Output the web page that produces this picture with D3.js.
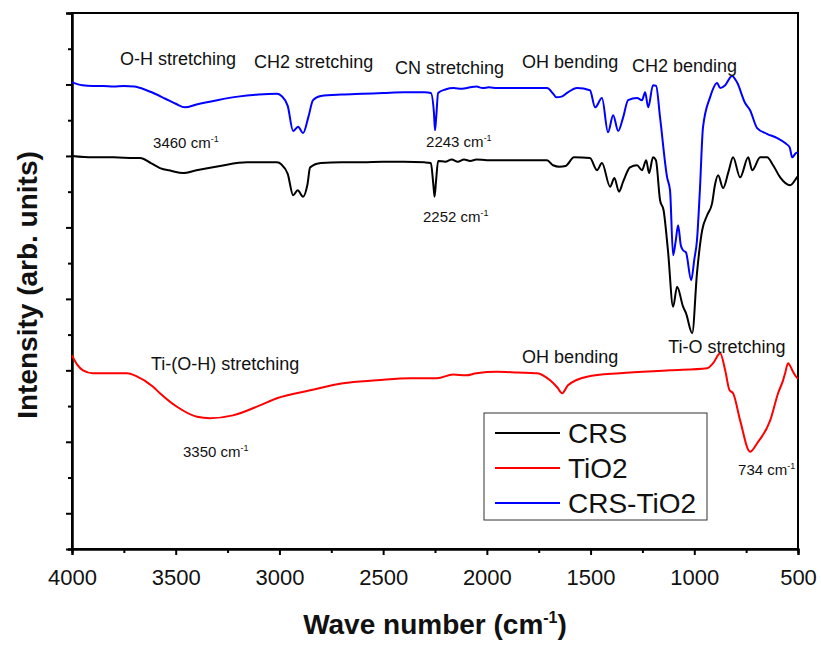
<!DOCTYPE html>
<html lang="en">
<head>
<meta charset="utf-8">
<title>FTIR spectra: CRS, TiO2, CRS-TiO2</title>
<script src="https://cdn.jsdelivr.net/npm/d3@7"></script>
<style>
  body { margin: 0; background: #fff; }
  text { font-family: "Liberation Sans", Arial, sans-serif; fill: #111; }
</style>
</head>
<body>
<script>

// wavenumber (cm-1), intensity (arb. units, offset stacked)
var crs = [
  [4000, 5.00], [3900, 4.98], [3800, 4.98], [3700, 4.97], [3672, 4.97], [3620, 4.90],
  [3576, 4.83], [3520, 4.79], [3465, 4.76], [3400, 4.80], [3286, 4.86], [3156, 4.91],
  [3012, 4.91], [2990, 4.88], [2960, 4.75], [2934, 4.45], [2912, 4.52], [2886, 4.43],
  [2865, 4.60], [2852, 4.84], [2800, 4.90], [2700, 4.91], [2600, 4.91], [2500, 4.92],
  [2400, 4.92], [2300, 4.91], [2270, 4.90], [2258, 4.60], [2252, 4.43], [2245, 4.65],
  [2235, 4.93], [2200, 4.92], [2170, 4.95], [2140, 4.92], [2110, 4.95], [2080, 4.93],
  [2050, 4.95], [2000, 4.94], [1900, 4.94], [1800, 4.94], [1710, 4.94], [1681, 4.87],
  [1650, 4.85], [1620, 4.86], [1580, 4.98], [1503, 4.97], [1469, 4.80], [1445, 4.90],
  [1406, 4.57], [1385, 4.69], [1363, 4.50], [1343, 4.64], [1310, 4.84], [1276, 4.87],
  [1252, 4.80], [1232, 4.94], [1218, 4.76], [1199, 4.98], [1185, 4.94], [1165, 4.38],
  [1148, 4.24], [1127, 3.68], [1102, 2.89], [1083, 3.17], [1054, 2.89], [1040, 2.80],
  [1010, 2.52], [987, 3.36], [962, 3.96], [938, 4.17], [914, 4.34], [900, 4.60],
  [885, 4.73], [861, 4.55], [835, 4.78], [813, 4.98], [779, 4.70], [740, 4.98],
  [721, 4.80], [682, 4.98], [649, 4.98], [620, 4.87], [586, 4.70], [538, 4.59],
  [505, 4.70], [500, 4.72]
];

var tio2 = [
  [4000, 2.21], [3975, 2.08], [3947, 2.00], [3900, 1.96], [3800, 1.96], [3735, 1.96],
  [3690, 1.92], [3609, 1.77], [3576, 1.68], [3494, 1.49], [3397, 1.35], [3335, 1.33],
  [3224, 1.37], [3094, 1.51], [3012, 1.61], [2852, 1.72], [2693, 1.82], [2530, 1.86],
  [2370, 1.89], [2240, 1.89], [2163, 1.94], [2100, 1.93], [2050, 1.96], [1951, 1.98],
  [1850, 1.97], [1758, 1.96], [1695, 1.86], [1660, 1.76], [1637, 1.68], [1609, 1.79],
  [1517, 1.91], [1358, 1.96], [1117, 2.00], [938, 2.03], [909, 2.10], [875, 2.24],
  [851, 2.00], [830, 1.72], [813, 1.68], [779, 1.30], [731, 0.86], [697, 0.98],
  [634, 1.30], [596, 1.68], [572, 1.86], [562, 1.96], [548, 2.10], [524, 1.98],
  [509, 1.91], [500, 1.88]
];

var crsTio2 = [
  [4000, 6.03], [3950, 5.99], [3900, 5.98], [3850, 5.98], [3800, 5.97], [3750, 5.98],
  [3700, 5.97], [3650, 5.93], [3600, 5.87], [3550, 5.80], [3500, 5.73], [3455, 5.68],
  [3400, 5.72], [3300, 5.78], [3200, 5.83], [3100, 5.86], [3012, 5.87], [2990, 5.84],
  [2960, 5.70], [2934, 5.35], [2910, 5.41], [2886, 5.32], [2860, 5.55], [2838, 5.78],
  [2800, 5.84], [2700, 5.86], [2600, 5.87], [2500, 5.88], [2400, 5.89], [2300, 5.89],
  [2270, 5.88], [2255, 5.60], [2250, 5.36], [2244, 5.55], [2235, 5.88], [2200, 5.93],
  [2160, 5.95], [2120, 5.94], [2080, 5.96], [2050, 5.97], [2020, 5.95], [1990, 5.96],
  [1950, 5.95], [1900, 5.95], [1800, 5.95], [1710, 5.95], [1680, 5.87], [1665, 5.82],
  [1640, 5.83], [1610, 5.89], [1565, 5.95], [1503, 5.92], [1478, 5.68], [1445, 5.81],
  [1416, 5.33], [1391, 5.57], [1367, 5.35], [1343, 5.54], [1319, 5.78], [1276, 5.81],
  [1252, 5.78], [1237, 5.89], [1222, 5.68], [1199, 5.99], [1184, 5.98], [1165, 5.54],
  [1131, 4.70], [1117, 4.52], [1102, 3.61], [1090, 3.80], [1078, 4.03], [1065, 3.75],
  [1054, 3.68], [1040, 3.65], [1015, 3.26], [1000, 3.55], [987, 3.82], [973, 4.52],
  [958, 5.40], [924, 5.82], [890, 6.02], [875, 5.95], [851, 5.99], [818, 6.12],
  [794, 6.03], [755, 5.74], [731, 5.64], [697, 5.39], [650, 5.31], [600, 5.25],
  [562, 5.18], [540, 5.12], [528, 4.98], [510, 5.04], [500, 5.05]
];

var seriesNames = ["CRS", "TiO2", "CRS-TiO2"];
var seriesColors = ["#000000", "#ff0000", "#0000ff"];

var xMajor = [4000, 3500, 3000, 2500, 2000, 1500, 1000, 500];
var xMinor = [3750, 3250, 2750, 2250, 1750, 1250, 750];
var yMajor = [0, 1, 2, 3, 4, 5, 6, 7];
var yMinor = [-0.5, 0.5, 1.5, 2.5, 3.5, 4.5, 5.5, 6.5];

// band labels: text, superscript, wavenumber, intensity
var bandLabels = [
  ["O-H stretching", "", 3769, 6.27],
  ["CH2 stretching", "", 3122, 6.23],
  ["CN stretching", "", 2443, 6.15],
  ["OH bending", "", 1830, 6.23],
  ["CH2 bending", "", 1300, 6.17],
  ["Ti-(O-H) stretching", "", 3619, 2.00],
  ["OH bending", "", 1830, 2.10],
  ["Ti-O stretching", "", 1126, 2.24]
];
var peakLabels = [
  ["3460 cm", "-1", 3609, 5.11],
  ["2243 cm", "-1", 2293, 5.12],
  ["2252 cm", "-1", 2308, 4.08],
  ["3350 cm", "-1", 3465, 0.79],
  ["734 cm", "-1", 789, 0.54]
];

var W = 821, H = 645;
var m = { left: 72, right: 798, top: 13, bottom: 549 };

var svg = d3.select("body").append("svg")
  .attr("width", W)
  .attr("height", H);

svg.append("rect").attr("width", W).attr("height", H).attr("fill", "#fff");

var x = d3.scaleLinear().domain([4000, 500]).range([m.left, m.right]);
var y = d3.scaleLinear().domain([-0.5, 7]).range([m.bottom, m.top]);

// frame
svg.append("rect")
  .attr("x", m.left).attr("y", m.top)
  .attr("width", m.right - m.left).attr("height", m.bottom - m.top)
  .attr("fill", "none").attr("stroke", "#000").attr("stroke-width", 2);

// x axis
var xAxis = svg.append("g")
  .attr("transform", "translate(0," + m.bottom + ")")
  .call(d3.axisBottom(x).tickValues(xMajor).tickSize(6).tickPadding(14).tickFormat(d3.format("d")));
xAxis.append("g")
  .call(d3.axisBottom(x).tickValues(xMinor).tickSize(4).tickFormat(""));
xAxis.selectAll(".domain").attr("stroke-width", 2);
xAxis.selectAll(".tick line").attr("stroke-width", 2);
xAxis.selectAll(".tick text")
  .style("font-family", "'Liberation Sans', Arial, sans-serif")
  .style("font-size", "22px")
  .attr("fill", "#111");

// y axis, no labels
var yAxis = svg.append("g")
  .attr("transform", "translate(" + m.left + ",0)")
  .call(d3.axisLeft(y).tickValues(yMajor).tickSize(6).tickFormat(""));
yAxis.append("g")
  .call(d3.axisLeft(y).tickValues(yMinor).tickSize(4).tickFormat(""));
yAxis.selectAll(".domain").attr("stroke-width", 2);
yAxis.selectAll(".tick line").attr("stroke-width", 2);

// spectra
var line = d3.line()
  .x(function(d) { return x(d[0]); })
  .y(function(d) { return y(d[1]); })
  .curve(d3.curveMonotoneX);

var plot = svg.append("g");
[crs, tio2, crsTio2].forEach(function(data, i) {
  plot.append("path")
    .datum(data)
    .attr("d", line)
    .attr("fill", "none")
    .attr("stroke", seriesColors[i])
    .attr("stroke-width", 2)
    .attr("stroke-linejoin", "round");
});

// labels on the spectra
function addLabel(d, size) {
  var t = svg.append("text")
    .attr("x", x(d[2]))
    .attr("y", y(d[3]))
    .style("font-size", size + "px")
    .text(d[0]);
  if (d[1]) {
    t.append("tspan").attr("dy", -size * 0.4).style("font-size", (size * 0.6) + "px").text(d[1]);
  }
}
bandLabels.forEach(function(d) { addLabel(d, 18); });
peakLabels.forEach(function(d) { addLabel(d, 15); });

// legend
var legend = svg.append("g").attr("transform", "translate(484,413)");
legend.append("rect")
  .attr("width", 223).attr("height", 107)
  .attr("fill", "#fff").attr("stroke", "#333").attr("stroke-width", 1);
seriesNames.forEach(function(name, i) {
  var ly = 20 + i * 35;
  legend.append("line")
    .attr("x1", 11).attr("x2", 76)
    .attr("y1", ly).attr("y2", ly)
    .attr("stroke", seriesColors[i]).attr("stroke-width", 2);
  legend.append("text")
    .attr("x", 84).attr("y", ly + 10)
    .style("font-size", "28px")
    .text(name);
});

// axis titles
var xt = svg.append("text")
  .attr("x", (m.left + m.right) / 2)
  .attr("y", 634)
  .attr("text-anchor", "middle")
  .style("font-size", "28px")
  .style("font-weight", "bold")
  .text("Wave number (cm");
xt.append("tspan").attr("dy", -11).style("font-size", "16px").text("-1");
xt.append("tspan").attr("dy", 11).text(")");

svg.append("text")
  .attr("transform", "translate(37,285) rotate(-90)")
  .attr("text-anchor", "middle")
  .style("font-size", "28px")
  .style("font-weight", "bold")
  .text("Intensity (arb. units)");

</script>
</body>
</html>
